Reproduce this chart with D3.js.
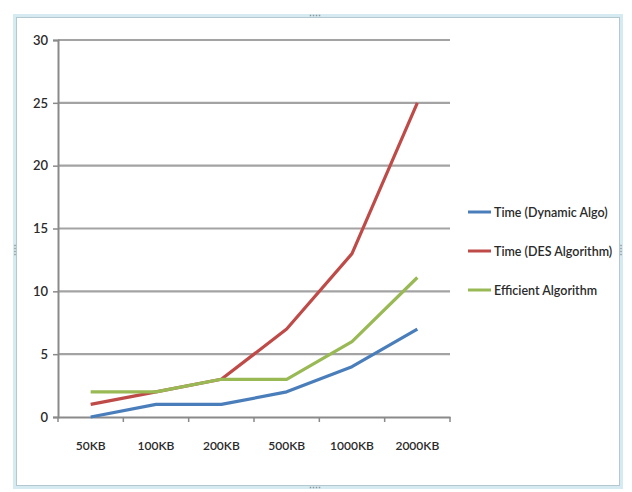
<!DOCTYPE html>
<html><head><meta charset="utf-8">
<script src="https://cdn.jsdelivr.net/npm/d3@7"></script>
<style>html,body{margin:0;padding:0;background:#fff;}svg{display:block;}</style>
</head><body>
<svg id="c" width="632" height="492"></svg>
<script>
const categories = ["50KB","100KB","200KB","500KB","1000KB","2000KB"];
const dynamicAlgo = [0,1,1,2,4,7];
const desAlgo = [1,2,3,7,13,25];
const efficientAlgo = [2,2,3,3,6,11.1];
const seriesNames = ["Time (Dynamic Algo)","Time (DES Algorithm)","Efficient Algorithm"];
const yTicks = [0,5,10,15,20,25,30];

const colors = ["#4a7ebb","#be4b48","#98b954"];
const series = [dynamicAlgo, desAlgo, efficientAlgo];

const svg = d3.select("#c");
const font = "Lato, 'Open Sans', sans-serif";

// frame
svg.append("rect").attr("x",14.5).attr("y",15.5).attr("width",607).attr("height",472)
  .attr("fill","#fff").attr("stroke","#d6eaf1").attr("stroke-width",3);
svg.append("rect").attr("x",16.5).attr("y",17.5).attr("width",603).attr("height",468)
  .attr("fill","none").attr("stroke","#b4c8cf").attr("stroke-width",1);

const x = d3.scaleBand().domain(categories).range([58,450]);
const y = d3.scaleLinear().domain([0,30]).range([417,40]);

// gridlines
svg.append("g").selectAll("line").data(yTicks.filter(d=>d>0)).join("line")
  .attr("x1",58).attr("x2",450).attr("y1",d=>y(d)).attr("y2",d=>y(d))
  .attr("stroke","#a3a3a3").attr("stroke-width",2.2);

// y axis
const ya = svg.append("g").attr("transform","translate(58,0)")
  .call(d3.axisLeft(y).tickValues(yTicks).tickSize(5).tickPadding(5));
ya.select(".domain").attr("stroke","#8a8a8a").attr("stroke-width",2);
ya.selectAll(".tick line").attr("stroke","#8a8a8a").attr("stroke-width",1.5);
ya.selectAll("text").attr("font-family",font).attr("font-size",13).attr("font-weight",600).attr("fill","#2a2a2a");

// x axis
const xa = svg.append("g").attr("transform","translate(0,417)")
  .call(d3.axisBottom(x).tickSize(0).tickPadding(24));
xa.select(".domain").attr("stroke","#8a8a8a").attr("stroke-width",2);
xa.selectAll("text").attr("font-family",font).attr("font-size",12).attr("font-weight",600).attr("fill","#2a2a2a");
const bounds = categories.map(c=>x(c)).concat([450]);
svg.append("g").selectAll("line").data(bounds).join("line")
  .attr("x1",d=>d).attr("x2",d=>d).attr("y1",417).attr("y2",422)
  .attr("stroke","#8a8a8a").attr("stroke-width",1.5);

// lines
const line = d3.line().x((d,i)=>x(categories[i])+x.bandwidth()/2).y(d=>y(d));
series.forEach((s,k)=>{
  svg.append("path").datum(s).attr("d",line).attr("fill","none")
    .attr("stroke",colors[k]).attr("stroke-width",3.2).attr("stroke-linejoin","round");
});

// legend
const lg = svg.append("g");
const ly = [212,251,290];
seriesNames.forEach((n,k)=>{
  lg.append("line").attr("x1",468).attr("x2",491).attr("y1",ly[k]).attr("y2",ly[k])
    .attr("stroke",colors[k]).attr("stroke-width",3);
  lg.append("text").attr("x",494).attr("y",ly[k]+4.5).text(n)
    .attr("font-family",font).attr("font-size",12.5).attr("font-weight",600).attr("fill","#2a2a2a");
});

// selection handle dots
[[315,15.5],[315,487.5]].forEach(p=>{
  [-4.5,-1.5,1.5,4.5].forEach(dx=>{
    svg.append("rect").attr("x",p[0]+dx-0.75).attr("y",p[1]-0.75).attr("width",1.5).attr("height",1.5).attr("fill","#8a9aa0");
  });
});
[[15,250],[621,250]].forEach(p=>{
  [-4.5,-1.5,1.5,4.5].forEach(dy=>{
    svg.append("rect").attr("x",p[0]-0.75).attr("y",p[1]+dy-0.75).attr("width",1.5).attr("height",1.5).attr("fill","#8a9aa0");
  });
});
</script>
</body></html>
